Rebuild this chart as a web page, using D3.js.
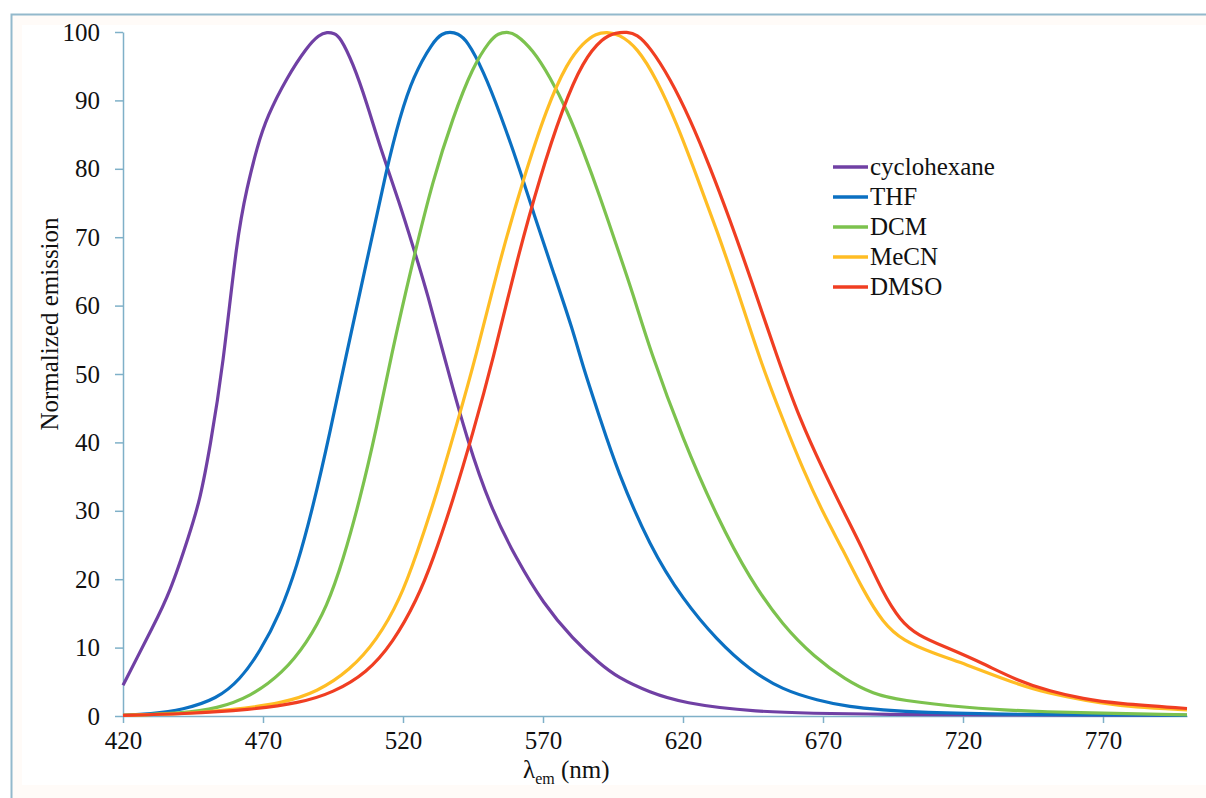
<!DOCTYPE html>
<html>
<head>
<meta charset="utf-8">
<script src="https://cdn.jsdelivr.net/npm/d3@7"></script>
<style>
  html, body { margin: 0; padding: 0; background: #ffffff; }
  svg { display: block; }
  text { font-family: "Liberation Serif", "Times New Roman", Times, serif; fill: #111; }
</style>
</head>
<body>
<div id="chart"></div>
<script>
// Emission spectra, [wavelength nm, normalized emission]
const cyclohexane = [[420,4.5],[425,8.5],[430,12.5],[436.8,18],[443.9,26.8],[447.5,31.6],[451.1,39.3],[455.7,51],[460.7,70],[464.3,77.3],[467.9,83.2],[471.4,87.6],[478.6,93.4],[485.7,97.8],[490,99.6],[492.9,100],[495.5,99.8],[497.5,99.3],[502.1,95.5],[507.1,89.6],[511.8,83.2],[518.9,74.8],[523.6,68.6],[528.6,62],[535.7,51],[542.9,40.4],[551.1,30.6],[560.7,22.8],[570,16.5],[580.7,11.2],[590.4,7.6],[596.4,5.7],[608.2,3.4],[620,1.9],[644,0.6],[680,0.2],[800,0.1]];
const thf = [[420,0.1],[429.6,0.3],[441.4,0.9],[453.6,2.5],[461.8,5.3],[468.9,9.4],[476.1,15],[482.1,21.8],[487.9,30.6],[493.9,41.4],[499.3,52],[507.1,66.5],[514.3,80.3],[518.9,87.6],[523.6,93.5],[530.7,98.6],[534,99.8],[536.8,100],[539.5,99.8],[542.9,98.8],[548.6,94.4],[554.6,88.2],[561.8,79.8],[566.4,73.8],[573.6,65],[580.7,56.4],[584.3,51],[590.4,43.5],[596.4,36],[608.2,24.7],[620,17],[632.1,11.1],[643.9,6.7],[655.7,3.8],[667.9,2.3],[679.6,1.3],[691.4,0.9],[703.6,0.5],[740,0.2],[800,0.1]];
const dcm = [[420,0.1],[441.4,0.4],[453.6,1.1],[465.4,2.8],[477.1,6.3],[485.7,10.7],[492.9,16],[498.6,22.8],[504.6,31.6],[510.7,42.3],[515.4,52],[523.6,66.7],[530.7,78.4],[537.9,87.6],[545,95],[551.1,98.8],[554,99.8],[557.1,100],[560,99.8],[566.4,97.4],[572.5,93.4],[578.6,88.6],[584.3,82.7],[590.4,75.9],[596.4,68.6],[602.1,61.8],[608.2,53.5],[620,40.4],[632.1,29.1],[643.9,20],[655.7,13.2],[667,8.6],[678,5.3],[688,3.2],[697.5,2.3],[721.4,1.2],[745,0.6],[800,0.15]];
const mecn = [[420,0.1],[441.4,0.3],[459.3,0.9],[477.1,1.9],[489.3,3.5],[501.1,6.7],[510.7,11.1],[518.9,17],[525,23.8],[532.1,32.6],[539.3,42.8],[545.7,52],[554.6,66.7],[562.9,78.4],[571.4,89],[578.6,95.5],[584.3,98.4],[589,99.8],[592.9,100],[597,99.7],[603.6,97.8],[610.7,93],[617.9,86.5],[625,78.8],[632.1,71],[639.3,62.5],[647.5,52],[655.7,43.3],[662.9,36],[670,29.7],[677.1,24.3],[684.3,18.4],[691.4,13.6],[698.6,11],[709.3,9.2],[721.4,7.5],[733.2,5.6],[745,3.9],[757.1,2.8],[768.9,1.9],[780.7,1.3],[800,0.9]];
const dmso = [[420,0.1],[441.4,0.3],[465.4,0.9],[483.2,1.9],[495,3.4],[507.1,6.3],[516.4,10.7],[525,17],[530.7,22.8],[537.9,31.6],[545,41.4],[552.1,52],[560.7,66.7],[568.9,78.8],[577.1,89],[584.3,95.8],[591.4,99.2],[596,99.9],[600,100],[603.5,99.7],[608.2,97.8],[615.4,93.2],[622.5,87.3],[629.6,80.3],[636.8,72.5],[643.9,64.3],[653.6,52.5],[661.8,43.3],[670,36],[677.1,30.1],[684.3,24.3],[691.4,18],[697.5,14],[703.6,11.8],[715.4,9.8],[727.1,7.7],[739.3,5.2],[751.1,3.6],[762.9,2.5],[775,1.8],[800,1.1]];

const seriesNames = ['cyclohexane', 'THF', 'DCM', 'MeCN', 'DMSO'];
const seriesData = [cyclohexane, thf, dcm, mecn, dmso];
const seriesColors = ['#7040a4', '#0b70c2', '#7cc24e', '#ffbd24', '#f03e22'];

const xTicks = [420, 470, 520, 570, 620, 670, 720, 770];
const yTicks = [0, 10, 20, 30, 40, 50, 60, 70, 80, 90, 100];

const width = 1206, height = 798;
const axisColor = '#7fb0c8';
const serif = '"Liberation Serif", "Times New Roman", Times, serif';

const svg = d3.select('#chart')
    .append('svg')
    .attr('width', width)
    .attr('height', height);

// outer frame (only left and top edges are visible in the picture)
svg.append('rect')
    .attr('x', 12).attr('y', 15)
    .attr('width', width).attr('height', height)
    .attr('fill', '#fffbf8');
svg.append('rect')
    .attr('x', 22).attr('y', 25)
    .attr('width', width).attr('height', 760)
    .attr('fill', '#ffffff');
svg.append('path')
    .attr('d', `M11.5,${height} V14.5 H${width}`)
    .attr('fill', 'none')
    .attr('stroke', '#93b9cc')
    .attr('stroke-width', 2);

const x = d3.scaleLinear().domain([420, 800]).range([123, 1187]);
const y = d3.scaleLinear().domain([0, 100]).range([716, 32]);

// y axis
const yAxis = svg.append('g')
    .attr('transform', `translate(${x(420)},0)`)
    .call(d3.axisLeft(y).tickValues(yTicks).tickSize(8).tickPadding(15).tickSizeOuter(0));
yAxis.attr('font-family', serif);
yAxis.select('.domain').attr('stroke', axisColor).attr('stroke-width', 1.5);
yAxis.selectAll('.tick line').attr('stroke', axisColor).attr('stroke-width', 1.5);
yAxis.selectAll('.tick text')
    .style('font-family', serif)
    .style('font-size', '25px')
    .attr('fill', '#111');

// x axis
const xAxis = svg.append('g')
    .attr('transform', `translate(0,${y(0)})`)
    .call(d3.axisBottom(x).tickValues(xTicks).tickSize(7).tickPadding(8).tickSizeOuter(0));
xAxis.attr('font-family', serif);
xAxis.select('.domain').attr('stroke', axisColor).attr('stroke-width', 1.5);
xAxis.selectAll('.tick line').attr('stroke', axisColor).attr('stroke-width', 1.5);
xAxis.selectAll('.tick text')
    .style('font-family', serif)
    .style('font-size', '25px')
    .attr('fill', '#111');

// axis titles
svg.append('text')
    .attr('transform', 'translate(58,324) rotate(-90)')
    .attr('text-anchor', 'middle')
    .style('font-size', '25px')
    .text('Normalized emission');

const xTitle = svg.append('text')
    .attr('x', 523)
    .attr('y', 778)
    .style('font-size', '25px');
xTitle.append('tspan').text('λ');
xTitle.append('tspan').attr('dy', 6).style('font-size', '16px').text('em');
xTitle.append('tspan').attr('dy', -6).text(' (nm)');

// lines
const line = d3.line()
    .x(d => x(d[0]))
    .y(d => y(d[1]))
    .curve(d3.curveBasis);

seriesData.forEach((data, i) => {
    svg.append('path')
        .datum(data)
        .attr('fill', 'none')
        .attr('stroke', seriesColors[i])
        .attr('stroke-width', 3.2)
        .attr('stroke-linejoin', 'round')
        .attr('d', line);
});

// legend
const legend = svg.append('g').attr('transform', 'translate(833,167)');
seriesNames.forEach((name, i) => {
    const item = legend.append('g').attr('transform', `translate(0,${i * 30})`);
    item.append('line')
        .attr('x1', 0).attr('x2', 35)
        .attr('y1', 0).attr('y2', 0)
        .attr('stroke', seriesColors[i])
        .attr('stroke-width', 3.5);
    item.append('text')
        .attr('x', 37)
        .attr('y', 8)
        .style('font-size', '25px')
        .text(name);
});
</script>
</body>
</html>
